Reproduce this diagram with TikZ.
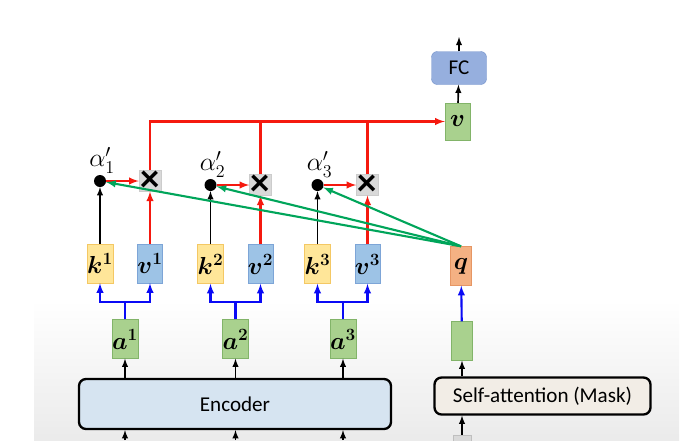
\documentclass[tikz,border=0pt]{standalone}
\usepackage{fix-cm}
\usepackage{fontspec}
\setsansfont{Carlito}
\usetikzlibrary{positioning}
\definecolor{kfill}{RGB}{255,230,153}
\definecolor{kdraw}{RGB}{244,200,100}
\definecolor{vfill}{RGB}{157,195,230}
\definecolor{vdraw}{RGB}{125,165,215}
\definecolor{afill}{RGB}{169,209,142}
\definecolor{adraw}{RGB}{130,180,105}
\definecolor{qfill}{RGB}{244,177,131}
\definecolor{qdraw}{RGB}{230,150,100}
\definecolor{fcfill}{RGB}{150,175,222}
\definecolor{fcdraw}{RGB}{120,150,205}
\definecolor{encfill}{RGB}{214,228,241}
\definecolor{safill}{RGB}{242,237,230}
\definecolor{xfill}{RGB}{217,217,217}
\definecolor{lred}{RGB}{245,25,15}
\definecolor{lblue}{RGB}{10,10,245}
\definecolor{lgreen}{RGB}{0,165,90}

\begin{document}
\begin{tikzpicture}[x=0.03cm, y=-0.03cm, >=latex,
	vecbox/.style={inner sep=0pt, minimum width=0.63cm, minimum height=1.17cm, font=\fontsize{21}{22}\selectfont\boldmath},
	kbox/.style={vecbox, draw=kdraw, fill=kfill},
	vbox/.style={vecbox, draw=vdraw, fill=vfill},
	abox/.style={vecbox, draw=adraw, fill=afill},
	qbox/.style={vecbox, draw=qdraw, fill=qfill},
	dnode/.style={circle, fill=black, inner sep=0pt, minimum size=0.36cm},
	xnode/.style={draw=black!20, fill=xfill, inner sep=0pt, minimum width=0.66cm, minimum height=0.6cm, font=\sffamily\bfseries\fontsize{33}{33}\selectfont},
	albl/.style={inner sep=1pt, xshift=0.06cm, font=\fontsize{22}{24}\selectfont},
	bigbox/.style={draw=black, line width=2pt, rounded corners=6pt, font=\sffamily\fontsize{18}{20}\selectfont},
	rline/.style={draw=lred, line width=1.8pt},
	bline/.style={draw=lblue, line width=1.8pt},
	gline/.style={draw=lgreen, line width=1.8pt},
	kline/.style={draw=black, line width=1.4pt}]
	\useasboundingbox (0,0) rectangle (699,440);
	\shade[top color=white, bottom color=black!8] (34,300) rectangle (679,440);

	\node[bigbox, fill=encfill, minimum width=9.36cm, minimum height=1.5cm] (enc) at (235,404) {Encoder};
	\node[bigbox, fill=safill, minimum width=6.48cm, minimum height=1.11cm] (sa) at (542.5,396) {Self-attention (Mask)};
	\node[draw=black!25, fill=xfill, minimum width=0.54cm, minimum height=0.6cm, inner sep=0pt] (gin) at (462,445) {};

	\node[abox] (a1) at (125,339) {$a^1$};
	\node[abox] (a2) at (235.5,339) {$a^2$};
	\node[abox] (a3) at (343,339) {$a^3$};
	\node[abox] (hq) at (462,341) {};

	\node[kbox] (k1) at (100,263.5) {$k^1$};
	\node[vbox] (v1) at (150,263.5) {$v^1$};
	\node[kbox] (k2) at (210.5,264) {$k^2$};
	\node[vbox] (v2) at (260.5,264) {$v^2$};
	\node[kbox] (k3) at (317.5,264) {$k^3$};
	\node[vbox] (v3) at (367.5,264) {$v^3$};
	\node[qbox] (q) at (461,266) {$q$};

	\node[dnode] (d1) at (100,181) {};
	\node[dnode] (d2) at (210.5,185) {};
	\node[dnode] (d3) at (317.5,185) {};
	\node[albl] (al1) [above = 0pt of d1] {$\alpha'_1$};
	\node[albl] (al2) [above = 0pt of d2] {$\alpha'_2$};
	\node[albl] (al3) [above = 0pt of d3] {$\alpha'_3$};
	\node[xnode] (x1) at (150,181) {×};
	\node[xnode] (x2) at (260.5,185) {×};
	\node[xnode] (x3) at (367.5,185) {×};

	\node[abox, minimum width=0.75cm, minimum height=1.11cm] (vout) at (457.5,121.5) {$v$};
	\node[draw=fcdraw, fill=fcfill, rounded corners=5pt, minimum width=1.65cm, minimum height=0.99cm, font=\sffamily\fontsize{18}{20}\selectfont] (fc) at (459,68) {FC};
	\coordinate (fcout) at (459,37);

	\coordinate (in1) at (125,440);
	\coordinate (in2) at (235.5,440);
	\coordinate (in3) at (343,440);
	\coordinate (b1) at (125,302);
	\coordinate (b2) at (235.5,302);
	\coordinate (b3) at (343,302);

	\draw[kline,->] (in1) -- (in1 |- enc.south);
	\draw[kline,->] (in2) -- (in2 |- enc.south);
	\draw[kline,->] (in3) -- (in3 |- enc.south);
	\draw[kline,->] (a1 |- enc.north) -- (a1);
	\draw[kline,->] (a2 |- enc.north) -- (a2);
	\draw[kline,->] (a3 |- enc.north) -- (a3);
	\draw[kline,->] (gin) -- (gin |- sa.south);
	\draw[kline,->] (hq |- sa.north) -- (hq);

	\draw[bline] (a1) -- (b1);
	\draw[bline,->] (b1) -| (k1);
	\draw[bline,->] (b1) -| (v1);
	\draw[bline] (a2) -- (b2);
	\draw[bline,->] (b2) -| (k2);
	\draw[bline,->] (b2) -| (v2);
	\draw[bline] (a3) -- (b3);
	\draw[bline,->] (b3) -| (k3);
	\draw[bline,->] (b3) -| (v3);
	\draw[bline,->] (hq) -- (q);

	\draw[kline,->] (k1) -- (d1);
	\draw[kline,->] (k2) -- (d2);
	\draw[kline,->] (k3) -- (d3);
	\draw[rline,->] (v1) -- (x1);
	\draw[rline,->] (v2) -- (x2);
	\draw[rline,->] (v3) -- (x3);
	\draw[rline,->] (d1) -- (x1);
	\draw[rline,->] (d2) -- (x2);
	\draw[rline,->] (d3) -- (x3);
	\draw[gline,->] (q.north) -- (d1);
	\draw[gline,->] (q.north) -- (d2);
	\draw[gline,->] (q.north) -- (d3);

	\draw[rline,->] (x1) |- (vout);
	\draw[rline] (x2) -- (x2 |- vout);
	\draw[rline] (x3) -- (x3 |- vout);
	\draw[kline,->] (vout) -- (fc);
	\draw[kline,->] (fc) -- (fcout);
\end{tikzpicture}
\end{document}
